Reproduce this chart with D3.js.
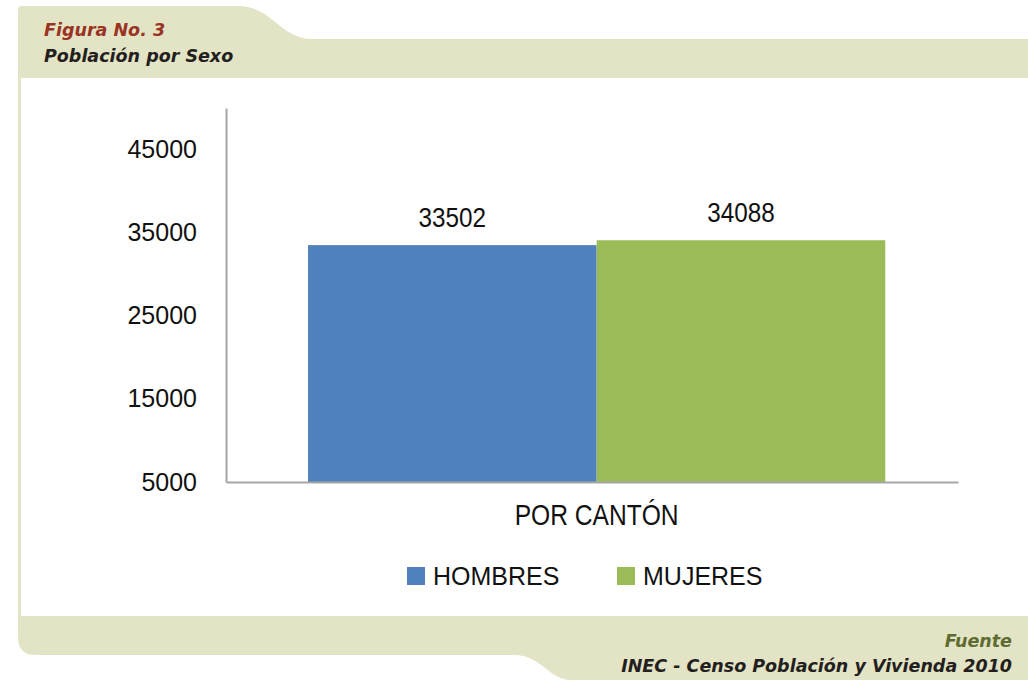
<!DOCTYPE html>
<html>
<head>
<meta charset="utf-8">
<script src="https://cdn.jsdelivr.net/npm/d3@7"></script>
<style>
  html, body { margin: 0; padding: 0; background: #fff; }
  svg { display: block; }
</style>
</head>
<body>
<div id="chart"></div>
<script>
// data
const categories = ['POR CANTÓN'];
const seriesNames = ['HOMBRES', 'MUJERES'];
const hombres = [33502];
const mujeres = [34088];
const yTicks = [5000, 15000, 25000, 35000, 45000];

const WIDTH = 1028;
const HEIGHT = 680;
const PLOT = { left: 226, right: 958, top: 108, bottom: 482 };
const BEIGE = '#e3e3c5';
const COLORS = ['#4f81bd', '#9bbb59'];
const AXIS_COLOR = '#a6a6a6';

const svg = d3.select('#chart')
  .append('svg')
    .attr('width', WIDTH)
    .attr('height', HEIGHT);

// frame: header tab, left strip, footer
svg.append('path')
  .attr('d', 'M18,10 Q18,6 22,6 L238,6 C272,6 280,39 312,39 L1028,39 L1028,78 L18,78 Z')
  .attr('fill', BEIGE);
svg.append('rect')
  .attr('x', 18).attr('y', 78).attr('width', 3).attr('height', 538)
  .attr('fill', BEIGE);
svg.append('path')
  .attr('d', 'M18,616 L1028,616 L1028,680 L572,680 C548,680 542,655 514,655 L36,655 Q18,655 18,637 Z')
  .attr('fill', BEIGE);

const headFont = '"DejaVu Sans", Lato, sans-serif';
function headText (x, yPos, anchor, color, str) {
  svg.append('text')
    .attr('x', x).attr('y', yPos)
    .attr('text-anchor', anchor)
    .attr('font-family', headFont)
    .attr('font-style', 'italic')
    .attr('font-weight', 'bold')
    .attr('font-size', 17.5)
    .attr('fill', color)
    .text(str);
}
headText(44, 36, 'start', '#9a3324', 'Figura No. 3');
headText(44, 62, 'start', '#231f20', 'Población por Sexo');
headText(1012, 647, 'end', '#5e6b31', 'Fuente');
headText(1012, 672, 'end', '#231f20', 'INEC - Censo Población y Vivienda 2010');

// scales
const y = d3.scaleLinear()
  .domain([5000, 50000])
  .range([PLOT.bottom, PLOT.top]);

const x0 = d3.scaleBand()
  .domain(categories)
  .range([PLOT.left, PLOT.right])
  .paddingInner(0)
  .paddingOuter(0.134)
  .align(0.53);

const x1 = d3.scaleBand()
  .domain(seriesNames)
  .range([0, x0.bandwidth()]);

const rows = categories.map((c, i) => ({ cat: c, values: [hombres[i], mujeres[i]] }));

// bars
const groups = svg.append('g')
  .selectAll('g')
  .data(rows)
  .enter()
  .append('g')
    .attr('transform', d => `translate(${x0(d.cat)},0)`);

groups.selectAll('rect')
  .data(d => d.values.map((v, i) => ({ name: seriesNames[i], value: v, color: COLORS[i] })))
  .enter()
  .append('rect')
    .attr('x', d => x1(d.name))
    .attr('y', d => y(d.value))
    .attr('width', x1.bandwidth())
    .attr('height', d => y(5000) - y(d.value))
    .attr('fill', d => d.color);

// value labels, slightly tall and narrow like the original
groups.selectAll('text.val')
  .data(d => d.values.map((v, i) => ({ name: seriesNames[i], value: v })))
  .enter()
  .append('text')
    .attr('class', 'val')
    .attr('transform', d => `translate(${x1(d.name) + x1.bandwidth() / 2},${y(d.value) - 18}) scale(0.9,1)`)
    .attr('text-anchor', 'middle')
    .attr('font-family', '"Liberation Sans", Arial, sans-serif')
    .attr('font-size', 27)
    .attr('fill', '#111')
    .text(d => d.value);

// y axis
const yAxis = svg.append('g')
  .attr('transform', `translate(${PLOT.left},0)`)
  .call(d3.axisLeft(y).tickValues(yTicks).tickSize(0).tickSizeOuter(0).tickPadding(29).tickFormat(d3.format('d')));
yAxis.select('.domain').attr('stroke', AXIS_COLOR).attr('stroke-width', 2);
yAxis.selectAll('text')
  .attr('font-family', '"Liberation Sans", Arial, sans-serif')
  .attr('font-size', 25)
  .attr('fill', '#111');

// x axis, category label drawn condensed
const xAxis = svg.append('g')
  .attr('transform', `translate(0,${PLOT.bottom})`)
  .call(d3.axisBottom(x0).tickSize(0).tickSizeOuter(0).tickPadding(22));
xAxis.select('.domain').attr('stroke', AXIS_COLOR).attr('stroke-width', 2);
xAxis.selectAll('text')
  .attr('font-family', '"Liberation Sans", Arial, sans-serif')
  .attr('font-size', 30)
  .attr('transform', 'scale(0.82,1)')
  .attr('fill', '#111');

// legend
const legendX = [407, 617];
const legend = svg.append('g')
  .selectAll('g')
  .data(seriesNames)
  .enter()
  .append('g')
    .attr('transform', (d, i) => `translate(${legendX[i]},567)`);
legend.append('rect')
  .attr('width', 18).attr('height', 18)
  .attr('fill', (d, i) => COLORS[i]);
legend.append('text')
  .attr('x', 26).attr('y', 18)
  .attr('font-family', '"Liberation Sans", Arial, sans-serif')
  .attr('font-size', 25)
  .attr('fill', '#111')
  .text(d => d);
</script>
</body>
</html>
